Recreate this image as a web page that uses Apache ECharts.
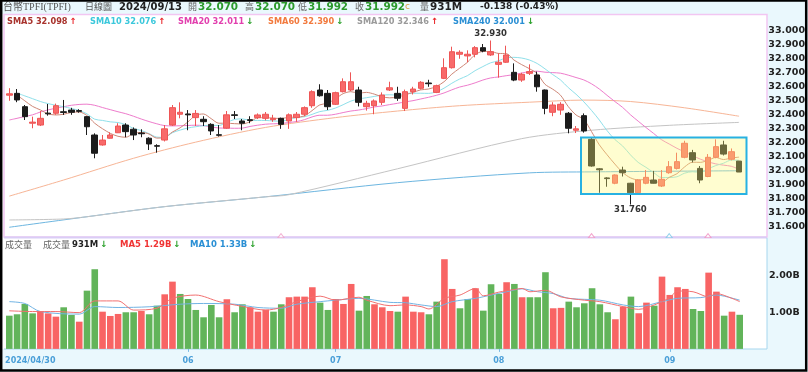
<!DOCTYPE html>
<html><head><meta charset="utf-8">
<script src="https://cdn.jsdelivr.net/npm/echarts@6/dist/echarts.min.js"></script>
<style>html,body{margin:0;padding:0;background:#fff}#c{width:808px;height:372px}</style>
</head><body><div id="c"></div><script>
// ---- data ----
const dates = ['2024/04/30',
'2024/05/02','2024/05/03','2024/05/06','2024/05/07','2024/05/08','2024/05/09','2024/05/10','2024/05/13','2024/05/14','2024/05/15','2024/05/16','2024/05/17','2024/05/20','2024/05/21','2024/05/22','2024/05/23','2024/05/24','2024/05/27','2024/05/28','2024/05/29','2024/05/30','2024/05/31',
'2024/06/03','2024/06/04','2024/06/05','2024/06/06','2024/06/07','2024/06/11','2024/06/12','2024/06/13','2024/06/14','2024/06/17','2024/06/18','2024/06/19','2024/06/20','2024/06/21','2024/06/24','2024/06/25','2024/06/26','2024/06/27','2024/06/28',
'2024/07/01','2024/07/02','2024/07/03','2024/07/04','2024/07/05','2024/07/08','2024/07/09','2024/07/10','2024/07/11','2024/07/12','2024/07/15','2024/07/16','2024/07/17','2024/07/18','2024/07/19','2024/07/22','2024/07/23','2024/07/26','2024/07/29','2024/07/30','2024/07/31',
'2024/08/01','2024/08/02','2024/08/05','2024/08/06','2024/08/07','2024/08/08','2024/08/09','2024/08/12','2024/08/13','2024/08/14','2024/08/15','2024/08/16','2024/08/19','2024/08/20','2024/08/21','2024/08/22','2024/08/23','2024/08/26','2024/08/27','2024/08/28','2024/08/29','2024/08/30',
'2024/09/02','2024/09/03','2024/09/04','2024/09/05','2024/09/06','2024/09/09','2024/09/10','2024/09/11','2024/09/12','2024/09/13'];

// [open, close, low, high]
const ohlc = [
[32.540,32.550,32.500,32.590],[32.553,32.506,32.490,32.584],[32.458,32.387,32.363,32.470],[32.340,32.348,32.304,32.387],[32.327,32.375,32.320,32.427],
[32.412,32.407,32.394,32.477],[32.411,32.465,32.400,32.480],[32.422,32.417,32.399,32.506],[32.434,32.418,32.400,32.450],[32.430,32.425,32.415,32.440],
[32.387,32.315,32.256,32.390],[32.256,32.126,32.090,32.268],[32.185,32.220,32.180,32.256],[32.233,32.256,32.230,32.275],[32.272,32.320,32.270,32.340],
[32.327,32.280,32.240,32.340],[32.297,32.256,32.220,32.310],[32.270,32.265,32.240,32.297],[32.233,32.192,32.149,32.240],[32.180,32.176,32.130,32.190],
[32.220,32.300,32.210,32.327],[32.327,32.451,32.320,32.470],[32.404,32.418,32.375,32.489],[32.406,32.400,32.290,32.434],[32.380,32.410,32.320,32.434],
[32.368,32.351,32.320,32.390],[32.332,32.285,32.256,32.340],[32.258,32.254,32.245,32.327],[32.305,32.400,32.300,32.427],[32.400,32.396,32.370,32.427],
[32.356,32.340,32.290,32.370],[32.365,32.360,32.340,32.390],[32.380,32.399,32.370,32.410],[32.375,32.404,32.360,32.420],[32.365,32.375,32.350,32.400],
[32.375,32.332,32.300,32.380],[32.356,32.400,32.300,32.410],[32.380,32.404,32.350,32.420],[32.404,32.451,32.390,32.460],[32.465,32.565,32.450,32.575],
[32.577,32.536,32.530,32.618],[32.553,32.458,32.434,32.577],[32.475,32.558,32.470,32.565],[32.565,32.636,32.560,32.660],[32.577,32.636,32.570,32.703],
[32.577,32.489,32.460,32.600],[32.458,32.482,32.430,32.500],[32.465,32.499,32.404,32.510],[32.489,32.541,32.470,32.560],[32.577,32.593,32.570,32.636],
[32.553,32.518,32.500,32.600],[32.446,32.565,32.427,32.580],[32.565,32.584,32.545,32.600],[32.589,32.632,32.580,32.640],[32.627,32.622,32.600,32.650],
[32.560,32.608,32.555,32.615],[32.660,32.736,32.655,32.803],[32.736,32.850,32.730,32.886],[32.832,32.846,32.800,32.860],[32.820,32.832,32.775,32.860],
[32.832,32.879,32.810,32.890],[32.879,32.855,32.846,32.905],[32.827,32.850,32.820,32.930],[32.760,32.775,32.665,32.839],[32.775,32.827,32.770,32.893],
[32.703,32.648,32.640,32.767],[32.648,32.689,32.635,32.700],[32.696,32.708,32.684,32.760],[32.684,32.600,32.565,32.708],[32.577,32.446,32.404,32.580],
[32.418,32.470,32.390,32.490],[32.434,32.475,32.400,32.490],[32.411,32.304,32.268,32.420],[32.290,32.300,32.270,32.320],[32.394,32.285,32.273,32.410],
[32.225,32.035,32.030,32.235],[32.015,32.008,31.844,32.020],[31.950,31.945,31.887,31.955],[31.912,31.971,31.905,31.975],[32.006,31.987,31.960,32.030],
[31.912,31.844,31.760,31.915],[31.844,31.935,31.840,31.940],[31.912,31.954,31.905,32.006],[31.935,31.912,31.910,32.000],[31.892,31.940,31.885,32.006],
[31.987,32.030,31.980,32.070],[32.018,32.066,32.010,32.130],[32.097,32.197,32.090,32.215],[32.130,32.078,32.060,32.150],[32.018,31.935,31.912,32.035],
[31.960,32.097,31.955,32.120],[32.097,32.173,32.090,32.225],[32.185,32.120,32.110,32.215],[32.083,32.137,32.075,32.160],[32.070,31.992,31.992,32.070]];

// volume in billions
const volume = [0.907,0.945,1.227,0.970,1.035,0.970,0.880,1.136,0.926,0.743,
1.590,2.175,1.016,0.899,0.954,1.000,1.000,1.035,0.945,1.180,
1.490,1.836,1.500,1.363,1.063,0.863,1.200,0.863,1.355,1.000,
1.218,1.136,1.016,1.070,1.016,1.218,1.410,1.427,1.427,1.683,
1.263,1.063,1.363,1.227,1.773,1.044,1.445,1.218,1.136,1.035,
1.016,1.427,1.016,1.000,0.945,1.290,2.448,1.637,1.109,1.363,
1.656,1.044,1.765,1.500,1.820,1.773,1.410,1.410,1.410,2.093,
1.109,1.120,1.290,1.136,1.245,1.656,1.218,1.000,0.809,1.153,
1.427,0.973,1.263,1.180,1.973,1.473,1.683,1.637,1.090,1.035,
2.082,1.563,0.907,1.016,0.931];
// r = up (red), g = down (green)
const volDir = 'ggggrrrggr'+'ggrrrggrgg'+'rrggggggrg'+'grrrggrrrr'+'ggrrrggrrr'+'grrrggrrgg'+'rgggrgrggg'+'rrggggggrr'+'grrgrrrrgg'+'rrgrg';

const sma5 = [null,32.54,32.50,32.46,32.435,32.407,32.399,32.404,32.417,32.420,
32.395,32.340,32.301,32.268,32.247,32.240,32.266,32.275,32.263,32.234,
32.238,32.277,32.307,32.349,32.396,32.406,32.373,32.340,32.340,32.337,
32.335,32.350,32.379,32.380,32.376,32.374,32.382,32.383,32.392,32.430,
32.471,32.483,32.514,32.551,32.565,32.555,32.560,32.548,32.529,32.521,
32.527,32.543,32.560,32.578,32.584,32.602,32.636,32.690,32.732,32.774,
32.829,32.852,32.852,32.838,32.837,32.791,32.758,32.729,32.694,32.618,
32.583,32.540,32.459,32.399,32.367,32.280,32.186,32.115,32.049,31.989,
31.951,31.936,31.938,31.926,31.917,31.954,31.980,32.029,32.062,32.061,
32.075,32.096,32.081,32.092,32.098];
const sma10 = [null,32.555,32.535,32.515,32.495,32.48,32.468,32.458,32.445,32.431,
32.407,32.369,32.360,32.350,32.345,32.330,32.303,32.288,32.266,32.241,
32.239,32.272,32.291,32.306,32.315,32.322,32.325,32.324,32.345,32.367,
32.371,32.361,32.360,32.360,32.356,32.355,32.366,32.381,32.386,32.403,
32.423,32.432,32.448,32.472,32.498,32.513,32.522,32.531,32.540,32.543,
32.541,32.552,32.554,32.554,32.553,32.564,32.590,32.625,32.655,32.679,
32.715,32.744,32.771,32.785,32.806,32.810,32.805,32.791,32.766,32.728,
32.687,32.649,32.594,32.547,32.493,32.431,32.363,32.287,32.224,32.178,
32.115,32.061,32.026,31.988,31.953,31.953,31.958,31.984,31.994,31.989,
32.014,32.038,32.055,32.077,32.076];
const sma20 = [32.363,32.375,32.388,32.400,32.420,32.435,32.447,32.458,32.468,32.474,
32.476,32.468,32.452,32.437,32.422,32.408,32.390,32.370,32.352,32.336,
32.323,32.321,32.322,32.324,32.326,32.323,32.314,32.306,32.305,32.304,
32.305,32.317,32.326,32.333,32.336,32.338,32.345,32.352,32.365,32.385,
32.397,32.397,32.404,32.416,32.427,32.434,32.444,32.456,32.463,32.473,
32.482,32.492,32.501,32.513,32.525,32.539,32.556,32.578,32.598,32.611,
32.628,32.648,32.663,32.670,32.679,32.687,32.698,32.708,32.711,32.704,
32.701,32.697,32.683,32.666,32.649,32.621,32.584,32.539,32.495,32.453,
32.401,32.355,32.310,32.267,32.223,32.192,32.161,32.135,32.109,32.084,
32.065,32.050,32.041,32.033,32.011];
// long averages: [bar index, value] readings
const sma60 = [[0,31.82],[7,31.935],[16,32.09],[24,32.205],[33,32.31],[42,32.38],[50,32.427],[58,32.465],[67,32.49],[74,32.505],[80,32.495],[87,32.45],[94,32.39]];
const sma120 = [[0,31.65],[7,31.657],[10,31.673],[20,31.745],[33,31.815],[36,31.83],[50,32.015],[66,32.23],[75,32.29],[85,32.325],[94,32.346]];
const sma240 = [[0,31.598],[10,31.673],[20,31.745],[33,31.815],[50,31.916],[67,31.986],[75,31.993],[94,32.001]];
const volMa5 = [[0,1.04],[3,1.02],[6,1.02],[9,0.99],[11,1.31],[14,1.31],[16,1.06],[19,1.11],[21,1.38],[24,1.47],[27,1.29],[30,1.16],[33,1.06],[35,1.13],[37,1.29],[40,1.44],[42,1.33],[45,1.41],[46,1.33],[49,1.18],[51,1.2],[53,1.155],[54,1.09],[56,1.38],[58,1.47],[60,1.65],[61,1.45],[63,1.55],[65,1.62],[66,1.65],[67,1.56],[69,1.6],[71,1.42],[74,1.33],[76,1.29],[79,1.155],[81,1.08],[83,1.2],[85,1.40],[86,1.58],[88,1.56],[90,1.42],[91,1.51],[93,1.38],[94,1.29]];
const volMa10 = [[0,1.29],[2,1.24],[4,1.02],[9,0.95],[11,1.155],[14,1.13],[18,1.15],[22,1.22],[25,1.24],[29,1.22],[32,1.13],[35,1.11],[37,1.22],[40,1.29],[42,1.33],[45,1.38],[49,1.27],[51,1.26],[53,1.2],[55,1.155],[57,1.29],[60,1.38],[62,1.47],[64,1.56],[66,1.64],[68,1.56],[70,1.51],[72,1.38],[76,1.33],[79,1.2],[81,1.155],[84,1.29],[86,1.38],[89,1.40],[91,1.47],[92,1.44],[94,1.33]];
// event markers: [bar index, colour]
const events = [[35,'#f0a0c8'],[75,'#f090c0'],[85,'#7cc8e8'],[90,'#f090c0']];

const header = {name:'台幣TPFI(TPFI)', period:'日線圖', date:'2024/09/13', open:'32.070', high:'32.070', low:'31.992', close:'31.992', vol:'931M', chg:'-0.138 (-0.43%)'};
const legendItems = [
  {t:'SMA5 32.098', up:true, c:'#a8322c', x:7},
  {t:'SMA10 32.076', up:true, c:'#3cc8dc', x:90},
  {t:'SMA20 32.011', up:false, c:'#e23fae', x:178},
  {t:'SMA60 32.390', up:false, c:'#f27a3e', x:268},
  {t:'SMA120 32.346', up:true, c:'#9a9a9a', x:357},
  {t:'SMA240 32.001', up:false, c:'#2a8fd4', x:453}
];
const volLegend = [
  {t:'931M', c:'#222', x:72},
  {t:'MA5 1.29B', c:'#f03434', x:120},
  {t:'MA10 1.33B', c:'#2a8fd4', x:190}
];

// ---- chart ----
const chart = echarts.init(document.getElementById('c'), null, {renderer:'canvas'});
const F = 'DejaVu Sans';
const GL = 5.4, GR = 808 - 743.6;
const red = '#f86a6a', redB = '#ee5555', blk = '#1c1c1c';
const up = '#e8262a', dn = '#2aa02a';

const g = [];
g.push({type:'rect', z:-10, shape:{x:0,y:0,width:808,height:372}, style:{fill:'#fff'}});
g.push({type:'rect', z:-9, shape:{x:0,y:0,width:808,height:14}, style:{fill:'#eaf8fd'}});
g.push({type:'rect', z:-9, shape:{x:767,y:14,width:41,height:336}, style:{fill:'#eaf8fd'}});
g.push({type:'rect', z:-9, shape:{x:0,y:349,width:808,height:23}, style:{fill:'#eaf8fd'}});
g.push({type:'rect', z:-8, shape:{x:4,y:14.5,width:763,height:222.5}, style:{fill:'none', stroke:'#f2c6f2', lineWidth:1.5}});
g.push({type:'line', z:-8, shape:{x1:4,y1:237.5,x2:767,y2:237.5}, style:{stroke:'#d9cdf6', lineWidth:2}});
g.push({type:'line', z:-8, shape:{x1:4,y1:349,x2:767,y2:349}, style:{stroke:'#a6d6ee', lineWidth:1}});
g.push({type:'line', z:-8, shape:{x1:767,y1:238,x2:767,y2:349}, style:{stroke:'#a6d6ee', lineWidth:1}});
g.push({type:'rect', z:200, shape:{x:1.2,y:0.5,width:805,height:370}, style:{fill:'none', stroke:'#000', lineWidth:2.5}});
// highlight box
g.push({type:'rect', z:100, shape:{x:581,y:137.5,width:165.5,height:56.5}, style:{fill:'rgba(255,250,120,0.35)', stroke:'#27b1e2', lineWidth:2}});

function txt(x, y, text, fill, font, z) {
  return {type:'text', z: z||150, style:{x, y, text, fill, font, textVerticalAlign:'middle', verticalAlign:'middle'}};
}
const cjk = '"Liberation Serif","Noto Sans CJK TC"';
g.push(txt(3, 7, header.name, '#555', '10px ' + cjk));
g.push(txt(85, 7, header.period, '#555', '9px "Noto Sans CJK TC"'));
g.push(txt(119, 7, header.date, '#222', 'bold 10px ' + F));
const hv = [['開',188,header.open],['高',245,header.high],['低',298,header.low],['收',355,header.close]];
hv.forEach(([k,x,v]) => { g.push(txt(x, 7, k, '#666', '9px "Noto Sans CJK TC"')); g.push(txt(x+10, 7, v, '#2c9a2c', 'bold 10.4px ' + F)); });
g.push(txt(405, 7, 'c', '#e0a040', '9px ' + F));
g.push(txt(420, 7, '量', '#666', '9px "Noto Sans CJK TC"'));
g.push(txt(430, 7, header.vol, '#222', 'bold 10.4px ' + F));
g.push(txt(480, 7, header.chg, '#222', 'bold 9px ' + F));

legendItems.forEach(it => {
  g.push({type:'text', z:150, style:{x:it.x, y:21.5, text:'{a|' + it.t + '}{b|' + (it.up ? '↑' : '↓') + '}',
    textVerticalAlign:'middle', verticalAlign:'middle',
    rich:{a:{fill:it.c, font:'bold 8.2px ' + F}, b:{fill: it.up ? up : dn, font:'bold 8.5px ' + F, padding:[0,0,0,2]}}}});
});
g.push(txt(5, 245, '成交量', '#666', '9px "Noto Sans CJK TC"'));
g.push(txt(43, 245, '成交量', '#666', '9px "Noto Sans CJK TC"'));
volLegend.forEach(it => {
  g.push({type:'text', z:150, style:{x:it.x, y:245, text:'{a|' + it.t + '}{b|↓}',
    textVerticalAlign:'middle', verticalAlign:'middle',
    rich:{a:{fill:it.c, font:'bold 8.5px ' + F}, b:{fill: dn, font:'bold 8.5px ' + F, padding:[0,0,0,2]}}}});
});

const cats = dates;
// first bar gets the full date, then the first bar of each later month gets its month number
const showLabel = (idx) => idx === 0 || (idx > 1 && cats[idx].slice(5,7) !== cats[idx-1].slice(5,7));

function maLine(name, data, color, xi, yi) {
  return {name, type:'line', xAxisIndex:xi, yAxisIndex:yi, data, smooth:0.3, connectNulls:true, symbol:'none',
    lineStyle:{width:1, color}, z:3, silent:true, animation:false};
}

const option = {
  animation:false,
  graphic:g,
  grid:[
    {left:GL, right:GR, top:2.66, height:238.34},
    {left:GL, right:GR, top:239, height:109.9}
  ],
  xAxis:[
    {type:'category', gridIndex:0, data:cats, boundaryGap:true, show:false},
    {type:'category', gridIndex:1, data:cats, boundaryGap:true,
      axisLine:{show:false}, splitLine:{show:false},
      axisTick:{show:true, alignWithLabel:true, length:3, lineStyle:{color:'#7bbbe6'}, interval:(i)=>showLabel(i) && i>0},
      axisLabel:{interval:(i)=>showLabel(i), margin:8, color:'#4a9fd8', fontFamily:F, fontWeight:'bold', fontSize:8,
        formatter:(v, i) => i === 0 ? '{f|' + v + '}' : v.slice(5,7),
        rich:{f:{color:'#4a9fd8', fontFamily:F, fontWeight:'bold', fontSize:8, padding:[0,0,0,42]}}}}
  ],
  yAxis:[
    {type:'value', gridIndex:0, position:'right', min:31.5, max:33.2, interval:0.1,
      splitLine:{show:false}, axisLine:{show:false}, axisTick:{show:false},
      axisLabel:{margin:25.4, align:'left', color:'#222', fontFamily:F, fontWeight:'bold', fontSize:9.5,
        formatter:(v)=> (v > 31.55 && v < 33.05) ? v.toFixed(3) : ''}},
    {type:'value', gridIndex:1, position:'right', min:0, max:3, interval:1,
      splitLine:{show:false}, axisLine:{show:false}, axisTick:{show:false},
      axisLabel:{margin:25.4, align:'left', color:'#222', fontFamily:F, fontWeight:'bold', fontSize:9.5,
        formatter:(v)=> (v > 0.5 && v < 2.5) ? v.toFixed(2) + 'B' : ''}}
  ],
  series:[
    maLine('SMA240', sma240, '#6db6e0', 0, 0),
    maLine('SMA120', sma120, '#c4c4c4', 0, 0),
    maLine('SMA60', sma60, '#f7b596', 0, 0),
    maLine('SMA20', sma20, '#ee7ccc', 0, 0),
    maLine('SMA10', sma10, '#8fe0ea', 0, 0),
    maLine('SMA5', sma5, '#cf8777', 0, 0),
    {name:'K', type:'candlestick', xAxisIndex:0, yAxisIndex:0, data:ohlc, barWidth:6, z:5,
      itemStyle:{color:red, color0:blk, borderColor:redB, borderColor0:blk, borderWidth:1},
      markPoint:{symbol:'circle', symbolSize:0.1, animation:false,
        label:{show:true, color:'#333', fontFamily:F, fontWeight:'bold', fontSize:8.5, formatter:(p)=>Number(p.value).toFixed(3)},
        data:[{type:'max', valueDim:'highest', label:{position:'top', distance:2}},
              {type:'min', valueDim:'lowest', label:{position:'bottom', distance:1}}]}},
    {name:'EV', type:'scatter', xAxisIndex:0, yAxisIndex:0, symbol:'triangle', symbolSize:[6,4], z:6, silent:true,
      data: events.map(e => ({value:[e[0], 31.538], itemStyle:{color:'#fff', borderColor:e[1], borderWidth:1}}))},
    {name:'VOL', type:'bar', xAxisIndex:1, yAxisIndex:1, barWidth:6.6, z:2,
      data: volume.map((v,i)=>({value:v, itemStyle:{color: volDir[i]==='r' ? '#f86464' : '#62b45a'}}))},
    maLine('VMA10', volMa10, '#72b4e4', 1, 1),
    maLine('VMA5', volMa5, '#f27070', 1, 1)
  ]
};
chart.setOption(option);
</script></body></html>
